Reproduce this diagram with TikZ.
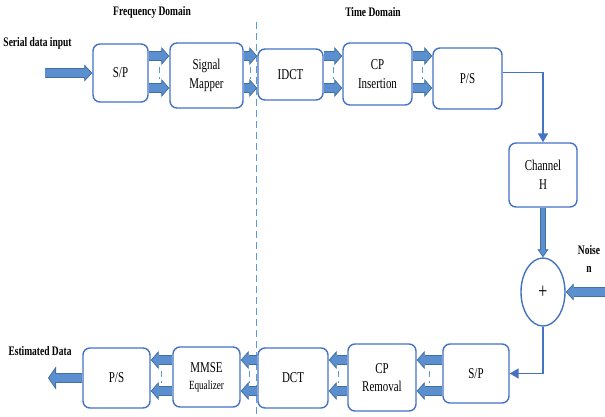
\documentclass[tikz,border=0pt]{standalone}
\usepackage{fontspec}
\setmainfont[FakeStretch=0.73]{Liberation Serif}
\usetikzlibrary{positioning,calc,shapes.geometric,arrows.meta}

\definecolor{boxblue}{HTML}{4472C4}
\definecolor{arrowfill}{HTML}{5B8FD0}
\definecolor{arrowline}{HTML}{41719C}
\definecolor{dashblue}{HTML}{5B9BD5}

\tikzset{
    block/.style={draw=boxblue, line width=1.4pt, rounded corners=7pt, fill=white,
        align=center, inner sep=0pt, font=\fontsize{15}{18.5}\selectfont},
    domainlbl/.style={inner sep=0pt, font=\fontsize{13}{18}\selectfont\bfseries},
    fatarrow/.style n args={4}{draw=arrowline, line width=#1,
        -{Triangle[length=#4, width=#3, fill=arrowfill, line width=0.8pt]},
        postaction={draw=arrowfill, line width=#2, -, shorten >=#4-1.5pt}},
    pairarrow/.style={fatarrow={10pt}{8.4pt}{18pt}{8pt}},
    bigarrow/.style={fatarrow={10pt}{8.4pt}{17pt}{8pt}},
    outarrow/.style={fatarrow={10pt}{8.4pt}{23pt}{8pt}},
    midarrow/.style={fatarrow={6pt}{4.4pt}{11pt}{8pt}},
    flow/.style={draw=boxblue, line width=1.8pt, -{Triangle[length=9pt, width=10pt]}},
    gapdash/.style={draw=dashblue, line width=1pt, dash pattern=on 6pt off 4pt}
}

\begin{document}
\begin{tikzpicture}[x=1pt, y=-1pt]
    \useasboundingbox (0,0) rectangle (605,416);

    % Domain boundary
    \draw [dashblue, line width=1pt, dash pattern=on 7pt off 4pt] (256,22) -- (256,416);
    \node [domainlbl] (freq) at (152,12) {Frequency Domain};
    \node [domainlbl] (time) at (373,12.5) {Time Domain};

    % Transmitter
    \node [block, minimum width=55pt, minimum height=58pt] (sp1) at (120.5,73) {S/P};
    \node [block, minimum width=73pt, minimum height=65pt] (map) at (206.5,75.5) {Signal\\Mapper};
    \node [block, minimum width=65pt, minimum height=51pt] (idct) at (290.5,74.5) {IDCT};
    \node [block, minimum width=69pt, minimum height=62pt] (cpi) at (377.5,74) {CP\\Insertion};
    \node [block, minimum width=69pt, minimum height=61pt] (ps1) at (467.5,78.5) {P/S};

    % Channel and noise
    \node [block, minimum width=68pt, minimum height=64pt] (chan) at (543,175) {Channel\\H};
    \node [ellipse, draw=boxblue, line width=1.4pt, fill=white, minimum width=44pt, minimum height=68pt,
        inner sep=0pt, font=\fontsize{22}{22}\selectfont] (plus) at (543,292) {+};
    \node [domainlbl, align=center] (noise) at (589,259) {Noise\\n};

    % Receiver
    \node [block, minimum width=66pt, minimum height=59pt] (sp2) at (476,373.5) {S/P};
    \node [block, minimum width=68pt, minimum height=67pt] (cpr) at (382,377.5) {CP\\Removal};
    \node [block, minimum width=70pt, minimum height=60pt] (dct) at (293,378) {DCT};
    \node [block, minimum width=67pt, minimum height=60pt] (mmse) at (206.5,377)
        {MMSE\\[-1.5pt]{\fontsize{12.5}{15}\selectfont Equalizer}};
    \node [block, minimum width=67pt, minimum height=60pt] (ps2) at (116.5,378) {P/S};

    % Parallel streams
    \coordinate (tophi) at (0,56);
    \coordinate (toplo) at (0,88);
    \coordinate (topdash) at (0,67);
    \coordinate (bothi) at (0,360);
    \coordinate (botlo) at (0,391);
    \coordinate (botdash) at (0,371);
    \foreach \a/\b in {sp1/map, map/idct, idct/cpi, cpi/ps1} {
        \draw [pairarrow] (\a.east |- tophi) -- (\b.west |- tophi);
        \draw [pairarrow] (\a.east |- toplo) -- (\b.west |- toplo);
        \path (\a.east) -- (\b.west) coordinate [pos=0.5] (mid);
        \draw [gapdash] (mid |- topdash) -- ++(0,12);
    }
    \foreach \a/\b in {sp2/cpr, cpr/dct, dct/mmse, mmse/ps2} {
        \draw [pairarrow] (\a.west |- bothi) -- (\b.east |- bothi);
        \draw [pairarrow] (\a.west |- botlo) -- (\b.east |- botlo);
        \path (\a.west) -- (\b.east) coordinate [pos=0.5] (mid);
        \draw [gapdash] (mid |- botdash) -- ++(0,12);
    }

    % Input and output
    \node [domainlbl] (serin) at (37.5,43) {Serial data input};
    \coordinate (datain) at (45,73);
    \draw [bigarrow] (datain) -- (sp1.west);
    \node [domainlbl] (estout) at (40,351) {Estimated Data};
    \coordinate (dataout) at (48,378);
    \draw [outarrow] (ps2.west) -- (dataout);

    % Through the channel
    \draw [flow] ([yshift=6pt]ps1.east) -| (chan.north);
    \draw [midarrow] (chan.south) -- (plus.north);
    \coordinate (noisein) at (605,292);
    \draw [bigarrow] (noisein) -- (plus.east);
    \draw [flow] (plus.south) |- (sp2.east);
\end{tikzpicture}
\end{document}
